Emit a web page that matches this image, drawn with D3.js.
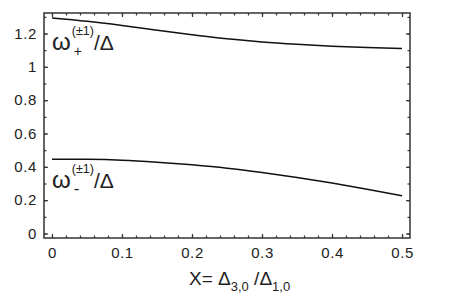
<!DOCTYPE html>
<html>
<head>
<meta charset="utf-8">
<script src="https://cdn.jsdelivr.net/npm/d3@7"></script>
<style>
  body { margin: 0; background: #fff; }
  text { font-family: "Liberation Sans", Arial, sans-serif; fill: #222; }
</style>
</head>
<body>
<div id="chart"></div>
<script>
// values
var xVals = [0, 0.05, 0.1, 0.15, 0.2, 0.25, 0.3, 0.35, 0.4, 0.45, 0.5];
var omegaPlus = [1.293, 1.273, 1.248, 1.220, 1.193, 1.168, 1.149, 1.135, 1.124, 1.116, 1.110];
var omegaMinus = [0.446, 0.445, 0.440, 0.428, 0.412, 0.392, 0.366, 0.336, 0.303, 0.266, 0.226];
var xTicks = [0, 0.1, 0.2, 0.3, 0.4, 0.5];
var yTicks = [0, 0.2, 0.4, 0.6, 0.8, 1, 1.2];

var W = 466, H = 303;
var L = 44, R = 410, T = 13, B = 238;

var svg = d3.select("#chart").append("svg").attr("width", W).attr("height", H);

var x = d3.scaleLinear().domain([-0.0114, 0.5114]).range([L, R]);
var y = d3.scaleLinear().domain([-0.027, 1.323]).range([B, T]);

var frameCol = "#333";

//minor + major ticks, inward on all sides
var xMinor = d3.range(0, 0.5001, 0.02);
var yMinor = d3.range(0, 1.3001, 0.1);

function addAxis(axis, tx, ty) {
	var g = svg.append("g").attr("transform", "translate(" + tx + "," + ty + ")").call(axis);
	g.select(".domain").remove();
	g.attr("font-size", 15);
	g.selectAll("line").attr("stroke", frameCol).attr("stroke-width", 1.2);
	g.selectAll("text").style("font-size", "15px").style("fill", "#222")
		.style("font-family", "Liberation Sans, Arial, sans-serif").style("letter-spacing", "0.6px");
	return g;
}

addAxis(d3.axisBottom(x).tickValues(xMinor).tickSize(-2.5).tickFormat(""), 0, B);
addAxis(d3.axisTop(x).tickValues(xMinor).tickSize(-2.5).tickFormat(""), 0, T);
addAxis(d3.axisLeft(y).tickValues(yMinor).tickSize(-2.5).tickFormat(""), L, 0);
addAxis(d3.axisRight(y).tickValues(yMinor).tickSize(-2.5).tickFormat(""), R, 0);

addAxis(d3.axisBottom(x).tickValues(xTicks).tickSize(-4).tickPadding(9).tickFormat(d3.format("")), 0, B);
addAxis(d3.axisTop(x).tickValues(xTicks).tickSize(-4).tickFormat(""), 0, T);
addAxis(d3.axisLeft(y).tickValues(yTicks).tickSize(-4).tickPadding(7).tickFormat(d3.format("")), L, 0);
addAxis(d3.axisRight(y).tickValues(yTicks).tickSize(-4).tickFormat(""), R, 0);

svg.append("rect").attr("x", L).attr("y", T).attr("width", R - L).attr("height", B - T)
	.attr("fill", "none").attr("stroke", frameCol).attr("stroke-width", 1.5);

var line = d3.line().x(function(d, i) { return x(xVals[i]); }).y(function(d) { return y(d); }).curve(d3.curveMonotoneX);

[omegaPlus, omegaMinus].forEach(function(s) {
	svg.append("path").attr("d", line(s)).attr("fill", "none").attr("stroke", "#111").attr("stroke-width", 1.5);
});

// curve labels, each piece placed on its own, after the measured width of the omega
function omegaLabel(px, py, sub) {
	var w = svg.append("text").attr("x", px).attr("y", py).attr("font-size", 24).text("\u03C9")
		.node().getComputedTextLength();
	svg.append("text").attr("x", px + w + 1).attr("y", py - 15).attr("font-size", 12.5).text("(\u00B11)");
	svg.append("text").attr("x", px + w + 3).attr("y", py + 6).attr("font-size", sub === "+" ? 14 : 17).text(sub);
	svg.append("text").attr("x", px + 42).attr("y", py).attr("font-size", 21).text("/\u0394");
}
omegaLabel(52, 50, "+");
omegaLabel(52, 188, "-");

// x axis title
var xt = svg.append("text").attr("x", 189).attr("y", 285).attr("font-size", 19);
xt.append("tspan").text("X= \u0394");
xt.append("tspan").attr("font-size", 13).attr("dy", 6).text("3,0");
xt.append("tspan").attr("dy", -6).text(" /\u0394");
xt.append("tspan").attr("font-size", 13).attr("dy", 6).text("1,0");
</script>
</body>
</html>
